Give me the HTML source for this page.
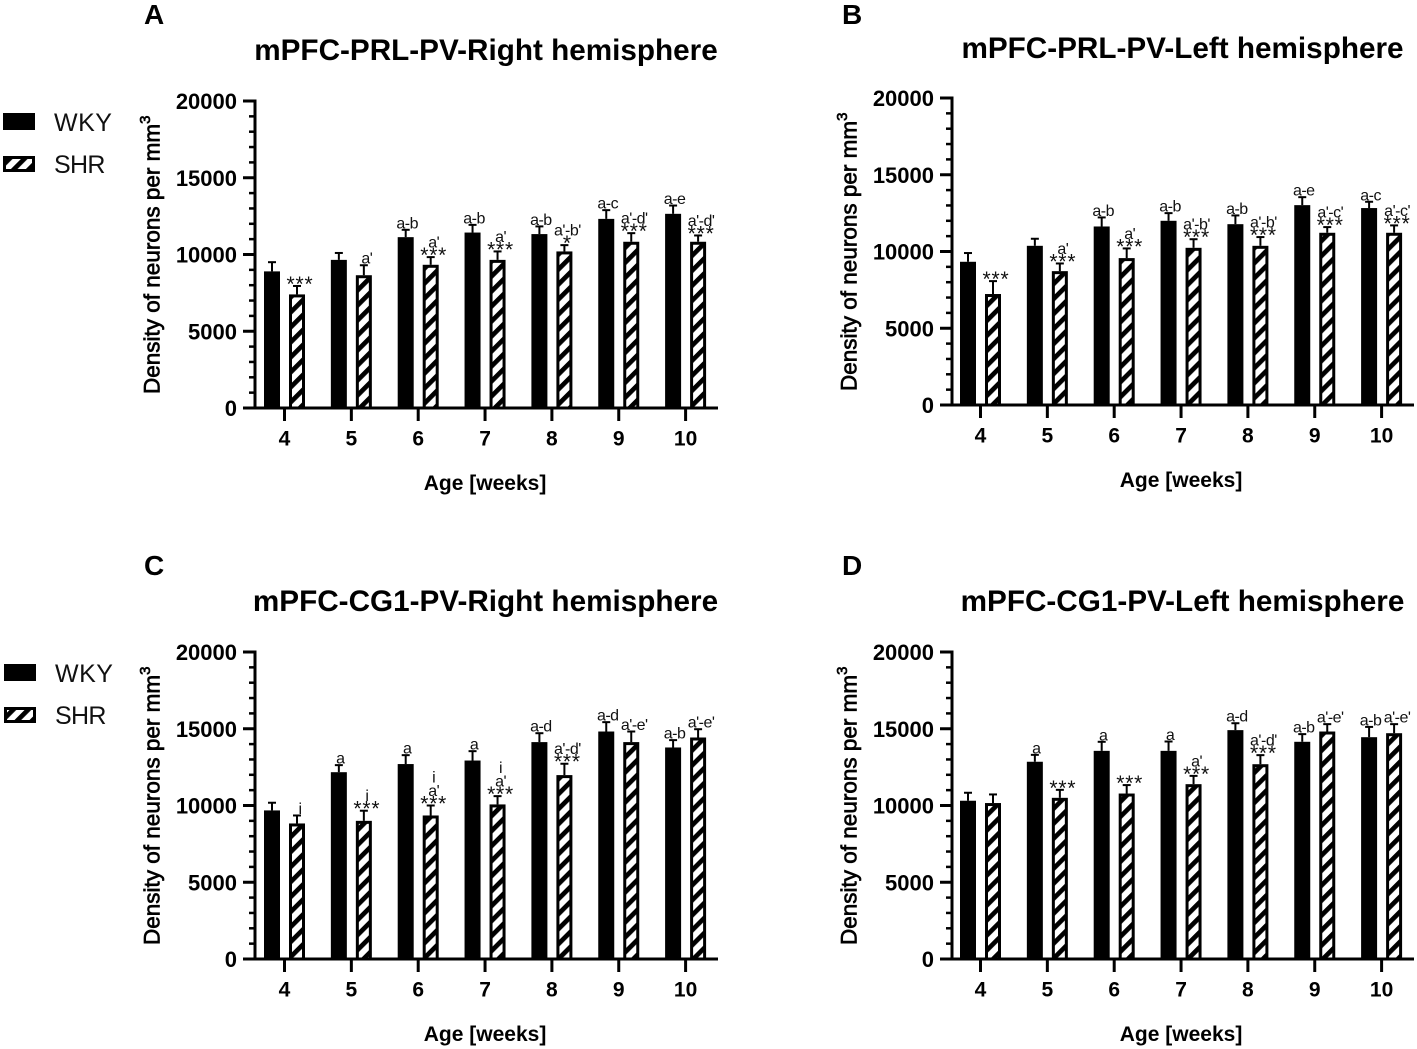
<!DOCTYPE html>
<html lang="en">
<head>
<meta charset="utf-8">
<title>PV neuron density in mPFC</title>
<style>
html,body{margin:0;padding:0;background:#fff;width:1417px;height:1049px;overflow:hidden}
svg{display:block;font-family:"Liberation Sans",Arial,sans-serif}
</style>
</head>
<body>
<svg id="figure" xmlns="http://www.w3.org/2000/svg" width="1417" height="1049" viewBox="0 0 1417 1049">
<defs>
<pattern id="hatch" patternUnits="userSpaceOnUse" width="10.6" height="10.6" patternTransform="rotate(45)">
<rect width="10.6" height="10.6" fill="#fff"/>
<rect width="4.7" height="10.6" fill="#000"/>
</pattern>
</defs>
</svg>
<script>
var ages = ['4','5','6','7','8','9','10'];
var yTickLabels = [0,5000,10000,15000,20000];

var prlRightWky = [8900,9650,11130,11430,11330,12320,12650];
var prlRightWkyTop = [9500,10100,11610,11930,11830,12890,13190];
var prlRightShr = [7400,8650,9330,9650,10200,10830,10830];
var prlRightShrTop = [7950,9300,9830,10200,10610,11390,11240];
var prlRightWkyNotes = ['','','a-b','a-b','a-b','a-c','a-e'];
var prlRightShrNotes = ['***',"a'","***|a'","***|a'","*|a'-b'","***|a'-d'","***|a'-d'"];

var prlLeftWky = [9330,10370,11630,12000,11780,13020,12830];
var prlLeftWkyTop = [9900,10830,12220,12500,12350,13540,13240];
var prlLeftShr = [7230,8720,9570,10240,10370,11220,11220];
var prlLeftShrTop = [8070,9220,10200,10800,10940,11590,11700];
var prlLeftWkyNotes = ['','','a-b','a-b','a-b','a-e','a-c'];
var prlLeftShrNotes = ['***',"***|a'","***|a'","***|a'-b'","***|a'-b'","***|a'-c'","***|a'-c'"];

var cgRightWky = [9680,12170,12700,12930,14130,14820,13780];
var cgRightWkyTop = [10180,12630,13280,13540,14710,15430,14260];
var cgRightShr = [8830,9000,9350,10070,11980,14130,14430];
var cgRightShrTop = [9350,9660,10000,10610,12720,14820,14970];
var cgRightWkyNotes = ['','a','a','a','a-d','a-d','a-b'];
var cgRightShrNotes = ['i','***|i',"***|a'|i","***|a'|i","***|a'-d'","a'-e'","a'-e'"];

var cgLeftWky = [10310,12850,13560,13560,14910,14150,14450];
var cgLeftWkyTop = [10830,13300,14150,14170,15360,14650,15120];
var cgLeftShr = [10160,10500,10780,11390,12690,14820,14710];
var cgLeftShrTop = [10720,11020,11330,11930,13280,15300,15300];
var cgLeftWkyNotes = ['','a','a','a','a-d','a-b','a-b'];
var cgLeftShrNotes = ['','***','***',"***|a'","***|a'-d'","a'-e'","a'-e'"];

var NS = 'http://www.w3.org/2000/svg';
var root = document.getElementById('figure');

function make(parent, tag, attrs, txt) {
  var el = document.createElementNS(NS, tag);
  for (var k in attrs) el.setAttribute(k, attrs[k]);
  if (txt !== undefined) el.textContent = txt;
  parent.appendChild(el);
  return el;
}

function drawNotes(g, cx, top, notes, series) {
  if (!notes) return;
  var parts = notes.split('|');
  var base = top - 1.5;
  for (var i = 0; i < parts.length; i++) {
    var p = parts[i];
    var isStar = /^\*+$/.test(p);
    var t;
    if (isStar) {
      t = make(g, 'text', {x: cx, y: top + 5, 'text-anchor': 'middle', 'font-size': 21, fill: '#111', 'letter-spacing': '0.8'}, p);
      
      
      base = top - 9.5;
    } else {
      t = make(g, 'text', {x: cx, y: base, 'text-anchor': 'middle', 'font-size': 16, fill: '#111', 'letter-spacing': '-0.5'}, p);
      
      
      base -= 13.5;
    }
  }
}

function drawPanel(o) {
  var g = make(root, 'g', {});
  
  
  var yScale = function (v) { return o.y0 - v * (o.y0 - o.y20) / 20000; };
  var xScale = function (i) { return o.xFirst + i * 66.85; };

  ages.forEach(function (age, i) {
    var cx = xScale(i);
    var wx = cx - 12.5, sx = cx + 12.5;
    var eb, cap, bar;
    var wTop = yScale(o.wkyTop[i]), sTop = yScale(o.shrTop[i]);

    eb = make(g, 'line', {x1: wx, x2: wx, y1: yScale(o.wky[i]), y2: wTop, stroke: '#000', 'stroke-width': 2});
    
    
    cap = make(g, 'line', {x1: wx - 4, x2: wx + 4, y1: wTop, y2: wTop, stroke: '#000', 'stroke-width': 2});
    
    
    bar = make(g, 'rect', {x: wx - 8, y: yScale(o.wky[i]), width: 16, height: o.y0 - yScale(o.wky[i]), fill: '#000'});
    
    

    eb = make(g, 'line', {x1: sx, x2: sx, y1: yScale(o.shr[i]), y2: sTop, stroke: '#000', 'stroke-width': 2});
    
    
    cap = make(g, 'line', {x1: sx - 4, x2: sx + 4, y1: sTop, y2: sTop, stroke: '#000', 'stroke-width': 2});
    
    
    bar = make(g, 'rect', {x: sx - 6.5, y: yScale(o.shr[i]) + 1.5, width: 13, height: o.y0 - yScale(o.shr[i]) - 1.5, fill: 'url(#hatch)', stroke: '#000', 'stroke-width': 3});
    
    

    drawNotes(g, wx + 1.5, wTop, o.wkyNotes[i], 'wky');
    drawNotes(g, sx + 3, sTop, o.shrNotes[i], 'shr');

    var tick = make(g, 'line', {x1: cx, x2: cx, y1: o.y0, y2: o.y0 + 13, stroke: '#000', 'stroke-width': 3});
    
    
    var xl = make(g, 'text', {x: cx, y: o.y0 + 37.5, 'text-anchor': 'middle', 'font-size': 21, 'font-weight': 'bold', fill: '#000'}, age);
    
    
  });

  for (var m = 0; m <= 20000; m += 1000) {
    if (m % 5000 === 0) continue;
    var minor = make(g, 'line', {x1: o.axisX - 6, x2: o.axisX, y1: yScale(m), y2: yScale(m), stroke: '#000', 'stroke-width': 2.5});
    
    
  }
  yTickLabels.forEach(function (v) {
    var major = make(g, 'line', {x1: o.axisX - 12, x2: o.axisX, y1: yScale(v), y2: yScale(v), stroke: '#000', 'stroke-width': 3});
    
    
    var yl = make(g, 'text', {x: o.axisX - 18, y: yScale(v) + 8, 'text-anchor': 'end', 'font-size': 22, 'font-weight': 'bold', fill: '#000'}, v);
    
    
  });

  var ya = make(g, 'line', {x1: o.axisX, x2: o.axisX, y1: o.y20 - 1.5, y2: o.y0 + 1.5, stroke: '#000', 'stroke-width': 3});
  
  
  var xa = make(g, 'line', {x1: o.axisX - 12, x2: o.axisEnd, y1: o.y0, y2: o.y0, stroke: '#000', 'stroke-width': 3});
  
  

  var title = make(g, 'text', {x: o.titleX, y: o.titleY, 'text-anchor': 'middle', 'font-size': 29.7, 'font-weight': 'bold', fill: '#000'}, o.title);
  
  
  var letter = make(g, 'text', {x: o.letterX, y: o.letterY, 'font-size': 28, 'font-weight': 'bold', fill: '#000'}, o.letter);
  
  
  var xt = make(g, 'text', {x: o.xFirst + 3 * 66.85, y: o.y0 + 82, 'text-anchor': 'middle', 'font-size': 21, 'font-weight': 'bold', fill: '#000'}, 'Age [weeks]');
  
  

  var yt = make(g, 'text', {transform: 'translate(' + (o.axisX - 95.5) + ',' + (o.y0 - 14) + ') rotate(-90)', 'font-size': 22.5, fill: '#000', stroke: '#000', 'stroke-width': 0.7}, 'Density of neurons per mm');
  
  
  make(yt, 'tspan', {dy: -9.5, 'font-size': 15}, '3');

  if (o.legendX !== undefined) {
    var s1 = make(g, 'rect', {x: o.legendX, y: o.legendY, width: 32, height: 17, fill: '#000'});
    
    
    var l1 = make(g, 'text', {x: o.legendX + 51, y: o.legendY + 18, 'font-size': 25, fill: '#111', 'letter-spacing': '0.5'}, 'WKY');
    
    
    var s2 = make(g, 'rect', {x: o.legendX + 1.5, y: o.legendY + 44.5, width: 29, height: 13, fill: 'url(#hatch)', stroke: '#000', 'stroke-width': 3});
    
    
    var l2 = make(g, 'text', {x: o.legendX + 51, y: o.legendY + 60, 'font-size': 25, fill: '#111', 'letter-spacing': '-0.7'}, 'SHR');
    
    
  }
}

drawPanel({name: 'panel-a-prl-right', letter: 'A', title: 'mPFC-PRL-PV-Right hemisphere',
  axisX: 255, axisEnd: 718, y0: 408, y20: 101, xFirst: 284.5,
  titleX: 486, titleY: 60, letterX: 144, letterY: 24, legendX: 3, legendY: 113,
  wky: prlRightWky, wkyTop: prlRightWkyTop, shr: prlRightShr, shrTop: prlRightShrTop,
  wkyNotes: prlRightWkyNotes, shrNotes: prlRightShrNotes});
drawPanel({name: 'panel-b-prl-left', letter: 'B', title: 'mPFC-PRL-PV-Left hemisphere',
  axisX: 952, axisEnd: 1414, y0: 405, y20: 98, xFirst: 980.5,
  titleX: 1182.5, titleY: 58, letterX: 842, letterY: 24,
  wky: prlLeftWky, wkyTop: prlLeftWkyTop, shr: prlLeftShr, shrTop: prlLeftShrTop,
  wkyNotes: prlLeftWkyNotes, shrNotes: prlLeftShrNotes});
drawPanel({name: 'panel-c-cg1-right', letter: 'C', title: 'mPFC-CG1-PV-Right hemisphere',
  axisX: 255, axisEnd: 718, y0: 959, y20: 652, xFirst: 284.5,
  titleX: 485.5, titleY: 611, letterX: 144, letterY: 575, legendX: 4, legendY: 664,
  wky: cgRightWky, wkyTop: cgRightWkyTop, shr: cgRightShr, shrTop: cgRightShrTop,
  wkyNotes: cgRightWkyNotes, shrNotes: cgRightShrNotes});
drawPanel({name: 'panel-d-cg1-left', letter: 'D', title: 'mPFC-CG1-PV-Left hemisphere',
  axisX: 952, axisEnd: 1414, y0: 959, y20: 652, xFirst: 980.5,
  titleX: 1182.5, titleY: 611, letterX: 842, letterY: 575,
  wky: cgLeftWky, wkyTop: cgLeftWkyTop, shr: cgLeftShr, shrTop: cgLeftShrTop,
  wkyNotes: cgLeftWkyNotes, shrNotes: cgLeftShrNotes});
</script>
</body>
</html>
